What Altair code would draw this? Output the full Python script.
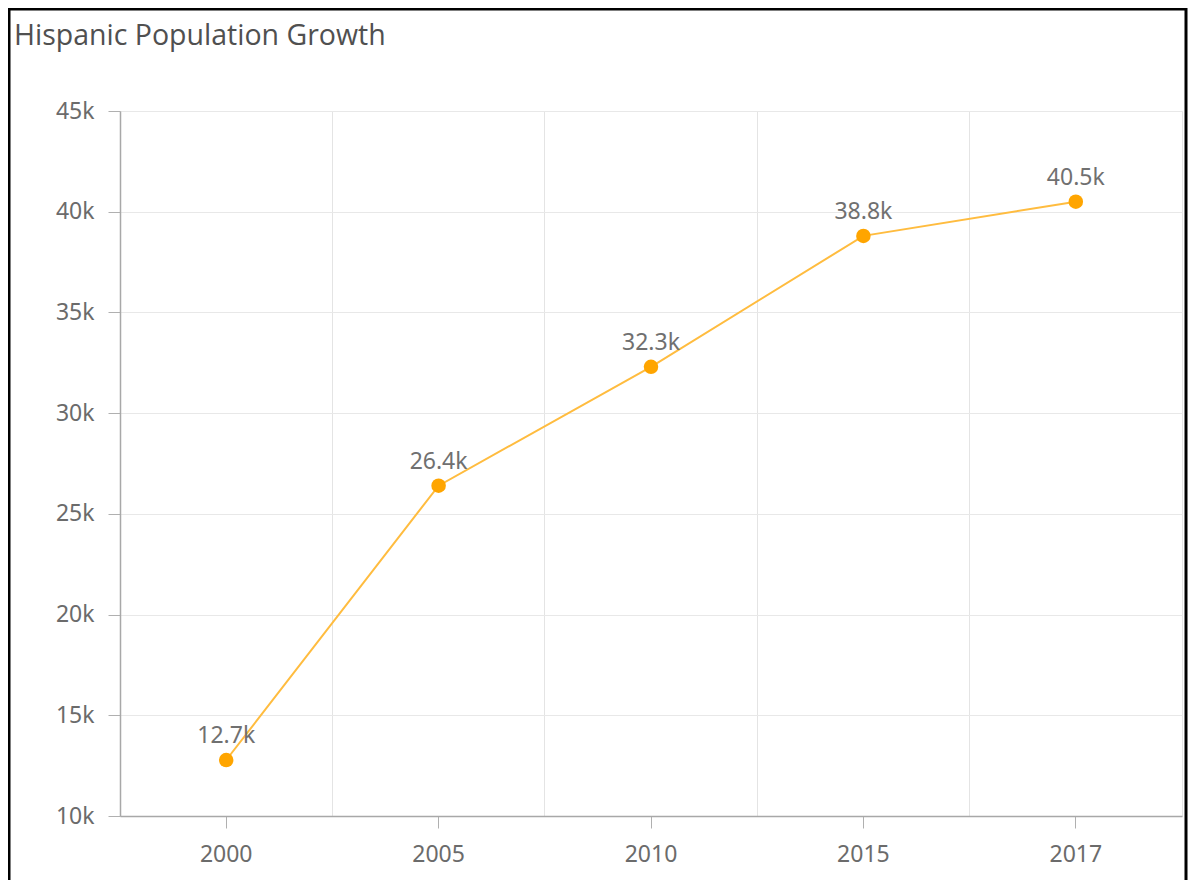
import altair as alt
import pandas as pd

title_text = "Hispanic Population Growth"
years = ["2000", "2005", "2010", "2015", "2017"]
population = [12780, 26400, 32300, 38800, 40500]
labels = ["12.7k", "26.4k", "32.3k", "38.8k", "40.5k"]

df = pd.DataFrame({"year": years, "population": population, "label": labels})

W, H = 1062, 705

x_scale = alt.Scale(type="band", paddingInner=0, paddingOuter=0)
y_scale = alt.Scale(domain=[10000, 45000], nice=False, zero=False)

base = alt.Chart(df)

x_main = alt.X(
    "year:N", scale=x_scale, sort=years, title=None,
    axis=alt.Axis(
        grid=False, labelAngle=0, labelFontSize=23, labelColor="#6b6b6b",
        labelFont="Noto Sans", tickSize=12, tickColor="#b0b0b0",
        domainColor="#a8a8a8", domainWidth=1.5, labelPadding=15,
    ),
)
x_none = alt.X("year:N", scale=x_scale, sort=years, title=None, axis=None)
y_main = alt.Y(
    "population:Q", scale=y_scale, title=None,
    axis=alt.Axis(
        values=[10000, 15000, 20000, 25000, 30000, 35000, 40000, 45000],
        format="~s", grid=True, gridColor="#e8e8e8", labelFontSize=23,
        labelColor="#6b6b6b", labelFont="Noto Sans", tickSize=12,
        tickColor="#b0b0b0", domainColor="#a8a8a8", domainWidth=1.5,
        labelPadding=14,
    ),
)

# vertical grid lines at band boundaries
grid = base.mark_point(opacity=0).encode(
    x=alt.X(
        "year:N", scale=x_scale, sort=years, title=None,
        axis=alt.Axis(orient="top", bandPosition=0, grid=True, gridColor="#e4e4e4",
                      labels=False, ticks=False, domain=False),
    ),
    y=y_main,
)

line = base.mark_line(color="#ffbc3f", strokeWidth=2).encode(x=x_main, y=y_main)
points = base.mark_circle(color="#ffa500", size=210, opacity=1).encode(x=x_none, y=y_main)
text = base.mark_text(dy=-24, fontSize=23, color="#707070", font="Noto Sans").encode(
    x=x_none, y=y_main, text="label:N",
)

title_df = pd.DataFrame({"t": [title_text]})
title = alt.Chart(title_df).mark_text(
    align="left", baseline="middle", fontSize=28.5, font="Open Sans", color="#505050",
).encode(x=alt.value(-106), y=alt.value(-75), text="t:N")

border_df = pd.DataFrame({"k": [0]})
border = alt.Chart(border_df).mark_rect(fill=None, stroke="black", strokeWidth=3).encode(
    x=alt.value(-111), x2=alt.value(1066), y=alt.value(-102), y2=alt.value(820),
)

chart = alt.layer(grid, line, points, text, title, border).resolve_axis(x="independent").properties(
    width=W, height=H,
    padding={"left": 112, "top": 103, "right": 6, "bottom": 64},
    autosize=alt.AutoSizeParams(type="none"),
).configure_view(stroke="#e4e4e4")

chart.save("out.html", embed_options={"renderer": "svg", "actions": False})
